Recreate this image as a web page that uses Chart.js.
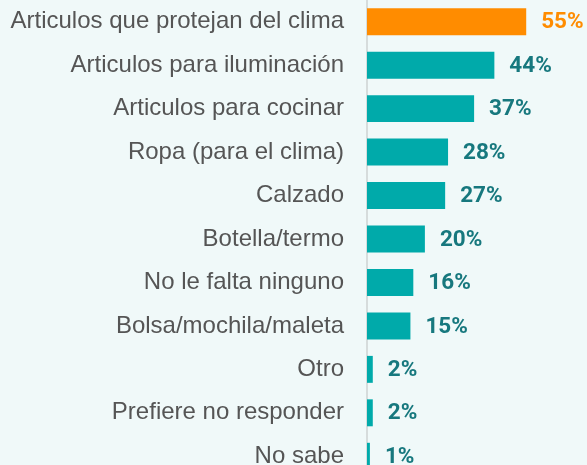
<!DOCTYPE html>
<html>
<head>
<meta charset="utf-8">
<script src="https://cdn.jsdelivr.net/npm/chart.js@4"></script>
<style>
  html, body { margin: 0; padding: 0; background: #f0f9f9; overflow: hidden; }
  canvas { display: block; }
</style>
</head>
<body>
<canvas id="barChart" width="587" height="478"></canvas>
<script>
  const categories = [
    'Articulos que protejan del clima',
    'Articulos para iluminación',
    'Articulos para cocinar',
    'Ropa (para el clima)',
    'Calzado',
    'Botella/termo',
    'No le falta ninguno',
    'Bolsa/mochila/maleta',
    'Otro',
    'Prefiere no responder',
    'No sabe'
  ];
  const percents = [55, 44, 37, 28, 27, 20, 16, 15, 2, 2, 1];
  const barColors = percents.map((v, i) => i === 0 ? '#ff8c00' : '#00aaaa');
  const labelColors = percents.map((v, i) => i === 0 ? '#ff8c00' : '#17787e');

  // draws the "55%" style numbers after each bar
  const valueLabels = {
    id: 'valueLabels',
    afterDatasetsDraw(chart) {
      const ctx = chart.ctx;
      const meta = chart.getDatasetMeta(0);
      ctx.save();
      ctx.font = 'bold 22.5px Roboto, sans-serif';
      ctx.textBaseline = 'middle';
      ctx.textAlign = 'left';
      meta.data.forEach((bar, i) => {
        ctx.fillStyle = labelColors[i];
        ctx.fillText(percents[i] + '%', bar.x + 15, bar.y + 1);
      });
      ctx.restore();
    }
  };

  const ctx = document.getElementById('barChart').getContext('2d');
  new Chart(ctx, {
    type: 'bar',
    data: {
      labels: categories,
      datasets: [{
        data: percents,
        backgroundColor: barColors,
        barPercentage: 0.62,
        categoryPercentage: 1
      }]
    },
    options: {
      indexAxis: 'y',
      responsive: false,
      animation: false,
      layout: { padding: 0 },
      plugins: {
        legend: { display: false },
        tooltip: { enabled: false }
      },
      scales: {
        x: {
          display: false,
          min: 0,
          max: 76
        },
        y: {
          afterFit(scale) {
            scale.width = 367;
            // no extra room above/below for the labels
            scale.paddingTop = 0;
            scale.paddingBottom = 0;
          },
          grid: { display: false },
          border: { color: '#d6dcdc', width: 2 },
          ticks: {
            color: '#555555',
            padding: 15,
            autoSkip: false,
            font: { family: 'Liberation Sans, Arial, sans-serif', size: 24 }
          }
        }
      }
    },
    plugins: [valueLabels]
  });
</script>
</body>
</html>
